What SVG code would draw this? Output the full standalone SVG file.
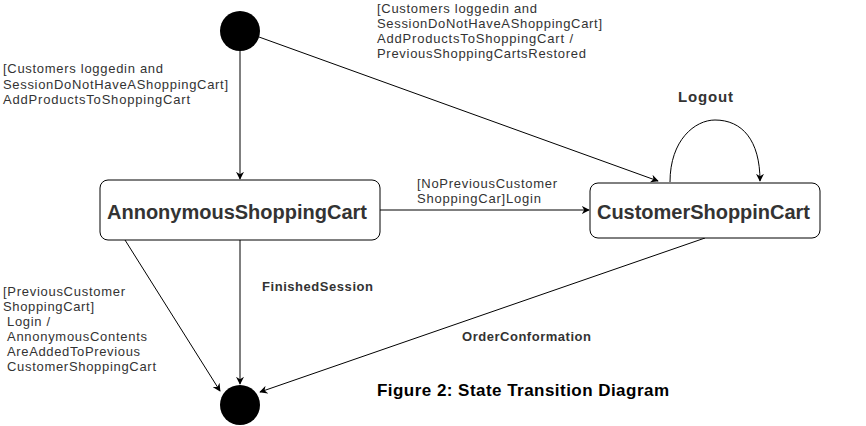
<svg xmlns="http://www.w3.org/2000/svg" width="866" height="426" viewBox="0 0 866 426">
<style>
text{font-family:"Liberation Sans",Arial,sans-serif;fill:#333}
.lbl{font-size:13px}
.b{font-weight:bold}
.state{fill:#fff;stroke:#000;stroke-width:1}
.st{font-size:20px;font-weight:bold}
.edge{fill:none;stroke:#000;stroke-width:1;marker-end:url(#arr)}
</style>
<defs>
<marker id="arr" viewBox="0 0 10 10" refX="9" refY="5" markerWidth="8" markerHeight="8" markerUnits="userSpaceOnUse" orient="auto">
<path d="M0,0 L10,5 L0,10 L3,5 Z" fill="#000"/>
</marker>
</defs>
<rect width="866" height="426" fill="#fff"/>
<g id="connectors">
<path class="edge" d="M240,50 L240,179"/>
<path class="edge" d="M259,37 L658,181"/>
<path class="edge" d="M380,210 L589,210"/>
<path class="edge" d="M670,182 C670,140 695,120 715,120 C742,120 760,140 760,181"/>
<path class="edge" d="M240,240 L240,384"/>
<path class="edge" d="M125,240 L220,391"/>
<path class="edge" d="M705,238 L260,392"/>
</g>
<g id="initial"><circle cx="240" cy="31" r="20" fill="#000"/></g>
<g id="final"><circle cx="240" cy="405" r="20" fill="#000"/></g>
<g id="anon">
<rect class="state" x="100" y="180" width="280" height="60" rx="8"/>
<text class="st" x="107" y="219" textLength="260" lengthAdjust="spacing">AnnonymousShoppingCart</text>
</g>
<g id="customer">
<rect class="state" x="590" y="183" width="230" height="55" rx="8"/>
<text class="st" x="597" y="219" textLength="213" lengthAdjust="spacing">CustomerShoppinCart</text>
</g>
<g id="labels">
<text class="lbl" x="3" y="73" textLength="160" lengthAdjust="spacing">[Customers loggedin and</text>
<text class="lbl" x="3" y="89" textLength="225" lengthAdjust="spacing">SessionDoNotHaveAShoppingCart]</text>
<text class="lbl" x="3" y="104" textLength="187" lengthAdjust="spacing">AddProductsToShoppingCart</text>
<text class="lbl" x="377" y="13" textLength="160" lengthAdjust="spacing">[Customers loggedin and</text>
<text class="lbl" x="377" y="28" textLength="225" lengthAdjust="spacing">SessionDoNotHaveAShoppingCart]</text>
<text class="lbl" x="377" y="43" textLength="196" lengthAdjust="spacing">AddProductsToShoppingCart /</text>
<text class="lbl" x="377" y="58" textLength="209" lengthAdjust="spacing">PreviousShoppingCartsRestored</text>
<text class="lbl" x="417" y="188" textLength="140" lengthAdjust="spacing">[NoPreviousCustomer</text>
<text class="lbl" x="417" y="203" textLength="124" lengthAdjust="spacing">ShoppingCar]Login</text>
<text class="b" x="678" y="102" font-size="15" textLength="55" lengthAdjust="spacing">Logout</text>
<text class="lbl b" x="262" y="291" font-size="12" textLength="111" lengthAdjust="spacing">FinishedSession</text>
<text class="lbl b" x="462" y="341" font-size="12" textLength="129" lengthAdjust="spacing">OrderConformation</text>
<text class="lbl" x="3" y="296" textLength="122" lengthAdjust="spacing">[PreviousCustomer</text>
<text class="lbl" x="3" y="311" textLength="91" lengthAdjust="spacing">ShoppingCart]</text>
<text class="lbl" x="7" y="326" textLength="43" lengthAdjust="spacing">Login /</text>
<text class="lbl" x="7" y="341" textLength="140" lengthAdjust="spacing">AnnonymousContents</text>
<text class="lbl" x="7" y="356" textLength="133" lengthAdjust="spacing">AreAddedToPrevious</text>
<text class="lbl" x="7" y="371" textLength="149" lengthAdjust="spacing">CustomerShoppingCart</text>
<text class="b" x="377" y="396" font-size="17" textLength="292" lengthAdjust="spacing" style="fill:#000">Figure 2: State Transition Diagram</text>
</g>
</svg>
